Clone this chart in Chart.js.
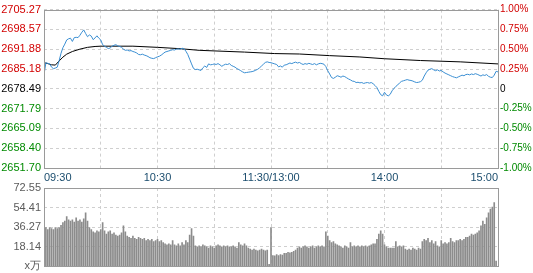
<!DOCTYPE html>
<html>
<head>
<meta charset="utf-8">
<script src="https://cdn.jsdelivr.net/npm/chart.js@4/dist/chart.umd.min.js"></script>
<style>
  html, body { margin: 0; padding: 0; background: #fff; }
  #wrap { position: relative; width: 533px; height: 273px; overflow: hidden; }
  #price { position: absolute; left: 0; top: 0; }
  #vol { position: absolute; left: 0; top: 175px; }
</style>
</head>
<body>
<div id="wrap">
  <canvas id="price" width="533" height="185"></canvas>
  <canvas id="vol" width="533" height="101"></canvas>
</div>
<script>
// --- data ------------------------------------------------------------------
const prevClose = 2678.49;

const priceTicks = [2705.27, 2698.57, 2691.88, 2685.18, 2678.49, 2671.79, 2665.09, 2658.40, 2651.70];
const priceTickLabels = ['2705.27', '2698.57', '2691.88', '2685.18', '2678.49', '2671.79', '2665.09', '2658.40', '2651.70'];
const pctTickLabels = ['1.00%', '0.75%', '0.50%', '0.25%', '0', '-0.25%', '-0.50%', '-0.75%', '-1.00%'];

const gridMinutes = [0, 30, 60, 90, 120, 150, 180, 210, 240];
const timeTickMinutes = [0, 60, 120, 180, 240];
const timeLabels = ['09:30', '10:30', '11:30/13:00', '14:00', '15:00'];

// one value per minute, 241 points
const price = [
  2683.2, 2687.3, 2687.1, 2686.9, 2685.8, 2685.3, 2685.5, 2685.8, 2688.0, 2690.5,
  2692.4, 2693.6, 2695.0, 2695.4, 2695.6, 2694.5, 2695.8, 2695.9, 2695.8, 2696.6,
  2697.6, 2698.4, 2697.2, 2696.1, 2696.7, 2696.3, 2695.1, 2695.7, 2696.4, 2695.6,
  2695.0, 2693.4, 2692.9, 2692.5, 2692.1, 2692.3, 2692.9, 2693.2, 2693.4, 2693.0,
  2692.8, 2692.5, 2691.9, 2691.5, 2691.6, 2691.3, 2691.4, 2691.1, 2690.9, 2690.6,
  2690.1, 2690.0, 2690.2, 2689.9, 2689.7, 2689.4, 2689.0, 2688.8, 2688.7, 2689.0,
  2689.3, 2689.5, 2689.9, 2690.4, 2690.9, 2691.1, 2691.3, 2691.5, 2691.7, 2691.6,
  2691.9, 2692.0, 2691.8, 2692.2, 2692.0, 2691.2, 2690.1, 2688.5, 2686.9, 2685.4,
  2685.0, 2685.1, 2684.9, 2684.7, 2685.6, 2686.2, 2685.7, 2686.9, 2686.6, 2686.7,
  2686.9, 2686.7, 2687.0, 2686.6, 2686.1, 2686.5, 2686.8, 2686.7, 2687.0, 2686.4,
  2686.1, 2685.8, 2685.3, 2685.0, 2684.6, 2684.2, 2683.9, 2684.0, 2684.1, 2684.2,
  2684.3, 2684.5, 2684.8, 2685.1, 2685.6, 2686.2, 2686.8, 2687.4, 2687.6, 2687.4,
  2687.3, 2687.1, 2686.9, 2686.7, 2685.9, 2686.2, 2685.8, 2686.5, 2686.6, 2686.9,
  2687.2, 2687.0, 2687.3, 2687.5, 2687.2, 2687.4, 2687.0, 2686.7, 2687.0, 2686.8,
  2687.1, 2686.9, 2686.7, 2687.0, 2686.6, 2686.9, 2687.1, 2687.0, 2686.8, 2686.0,
  2684.6, 2683.5, 2682.3, 2682.0, 2682.4, 2682.9, 2682.7, 2682.4, 2682.8, 2682.6,
  2682.2, 2681.8, 2681.5, 2681.1, 2681.0, 2680.6, 2680.7, 2680.5, 2680.6, 2680.3,
  2680.5, 2680.6, 2680.4, 2680.6, 2680.2, 2679.6, 2678.9, 2677.6, 2676.5, 2676.1,
  2677.3, 2676.4, 2676.1, 2676.6, 2677.8, 2678.6, 2679.3, 2679.8, 2680.5, 2681.0,
  2681.2, 2681.4, 2681.6, 2681.4, 2681.3, 2681.1, 2680.8, 2680.6, 2680.7, 2680.9,
  2681.4, 2682.8, 2683.9, 2684.8, 2685.1, 2685.3, 2684.9, 2684.6, 2684.9, 2684.5,
  2684.7, 2684.2, 2683.8, 2683.5, 2683.2, 2682.9, 2682.6, 2682.4, 2682.2, 2682.5,
  2682.8, 2683.1, 2682.9, 2683.3, 2683.4, 2683.2, 2683.5, 2683.3, 2683.6, 2683.4,
  2683.1, 2682.8, 2683.2, 2683.0, 2683.3, 2682.7, 2682.4, 2682.3, 2683.1, 2684.4,
  2684.2
];

// average price line, read at the minutes where it bends
const avgMinutes = [0, 2, 4, 6, 8, 10, 12, 15, 19, 23, 27, 30, 47, 60, 72, 82, 106, 122, 135, 151, 167, 180, 199, 220, 240];
const avgPrice = [2687.3, 2687.0, 2686.6, 2686.5, 2687.9, 2689.2, 2690.2, 2691.1, 2691.9, 2692.5, 2692.8, 2692.9, 2692.9, 2692.5,
  2692.05, 2691.5, 2690.9, 2690.4, 2690.25, 2689.7, 2689.25, 2688.65, 2688.05, 2687.6, 2686.9];

const volTicks = [0, 18.14, 36.27, 54.41, 72.55];
const volTickLabels = ['x万', '18.14', '36.27', '54.41', '72.55'];

// volume per minute (x 10k), 241 bars
const volume = [
  37.5, 36, 34, 36, 35, 34, 36, 35, 36, 38,
  40.5, 42, 46, 43, 42, 43, 41, 45, 42, 43,
  41, 44, 49.6, 42, 36, 34, 32, 31, 33, 32,
  34, 40.5, 33, 30, 32, 33, 30, 31, 29, 28,
  29, 31, 37.5, 32, 28, 27, 26, 28, 26, 25,
  27, 26, 25, 26, 24, 25, 24, 25, 23, 24,
  25, 23, 24, 22, 21, 20, 21, 20, 24, 20,
  19, 21, 19, 22, 20, 24, 22, 29, 35, 28,
  19, 18, 19, 18, 20, 19, 18, 17, 19, 18,
  17, 19, 20, 19, 18, 19, 18, 19, 18, 18,
  19, 18, 17, 22, 20, 19, 21, 19, 17, 16,
  15, 16, 15, 14.5, 15, 16, 15, 14.5, 15, 2,
  36, 10, 9.7, 11, 10, 11, 10.5, 12, 12, 13,
  12.5, 13, 14, 15, 17, 18, 17, 18, 19, 18,
  17, 18, 19, 17, 18, 19, 18, 19, 18, 32,
  28, 24, 22, 23, 21, 20, 19, 18, 17, 19,
  18, 17, 22, 18, 19, 18, 19, 18, 19, 18,
  19, 18, 19, 20, 21, 21, 25, 30, 33, 30,
  20, 18, 17, 17, 17, 17, 23, 18, 19, 18,
  19, 16, 15, 16, 15, 17, 16, 15, 17, 16,
  23, 25, 24, 26, 22, 24, 21, 23, 19, 18,
  24, 21, 22, 21, 22, 26, 23, 22, 24, 24,
  25, 24, 25, 27, 27, 28, 30, 29, 30, 31,
  33, 37.5, 42, 39, 45, 49.6, 53, 55, 59, 5,
  0
];

// --- look --------------------------------------------------------------------
const RED = '#d20000';
const GREEN = '#008a00';
const GRID = '#cfcfcf';
const FRAME = '#9a9a9a';

Chart.defaults.font.family = "'Liberation Sans', Arial, sans-serif";
Chart.defaults.font.size = 11;

function priceColor(v) {
  if (v > prevClose + 0.001) return RED;
  if (v < prevClose - 0.001) return GREEN;
  return '#000';
}

// frame around the plot area
const frame = {
  id: 'frame',
  afterDatasetsDraw(chart) {
    const { ctx, chartArea: a } = chart;
    ctx.save();
    ctx.strokeStyle = FRAME;
    ctx.lineWidth = 1;
    ctx.strokeRect(Math.round(a.left) + 0.5, Math.round(a.top) + 0.5,
      Math.round(a.right - a.left), Math.round(a.bottom - a.top));
    ctx.restore();
  }
};

const setTicks = (values) => (scale) => { scale.ticks = values.map(v => ({ value: v })); };

new Chart(document.getElementById('price'), {
  type: 'line',
  data: {
    datasets: [
      {
        data: price.map((v, i) => ({ x: i, y: v })),
        borderColor: '#3a8ed2',
        borderWidth: 1,
        pointRadius: 0,
        tension: 0
      },
      {
        data: avgMinutes.map((m, k) => ({ x: m, y: avgPrice[k] })),
        borderColor: '#000',
        borderWidth: 1,
        pointRadius: 0,
        tension: 0
      }
    ]
  },
  options: {
    responsive: false,
    animation: false,
    layout: { padding: { top: 7 } },
    plugins: { legend: { display: false }, tooltip: { enabled: false } },
    scales: {
      x: {
        type: 'linear',
        min: 0,
        max: 240,
        afterBuildTicks: setTicks(gridMinutes),
        afterFit: (s) => { s.height = 17; },
        grid: { color: GRID, drawTicks: false },
        border: { display: false, dash: [3, 3] },
        ticks: {
          autoSkip: false,
          maxRotation: 0,
          align: 'inner',
          padding: 3,
          color: '#1b4d6e',
          callback: (v) => {
            const k = timeTickMinutes.indexOf(v);
            return k >= 0 ? timeLabels[k] : '';
          }
        }
      },
      y: {
        position: 'left',
        min: priceTicks[priceTicks.length - 1],
        max: priceTicks[0],
        afterBuildTicks: setTicks(priceTicks),
        afterFit: (s) => { s.width = 44; },
        grid: { color: GRID, drawTicks: false },
        border: { display: false, dash: [3, 3] },
        ticks: {
          padding: 3,
          color: (c) => priceColor(c.tick.value),
          callback: (v) => priceTickLabels[priceTicks.indexOf(v)]
        }
      },
      y2: {
        position: 'right',
        min: priceTicks[priceTicks.length - 1],
        max: priceTicks[0],
        afterBuildTicks: setTicks(priceTicks),
        afterFit: (s) => { s.width = 35; },
        grid: { drawOnChartArea: false, drawTicks: false },
        border: { display: false },
        ticks: {
          padding: 2,
          font: { size: 10 },
          color: (c) => priceColor(c.tick.value),
          callback: (v) => pctTickLabels[priceTicks.indexOf(v)]
        }
      }
    }
  },
  plugins: [frame]
});

new Chart(document.getElementById('vol'), {
  type: 'bar',
  data: {
    datasets: [{
      data: volume.map((v, i) => ({ x: i, y: v })),
      backgroundColor: '#8c8c8c',
      borderWidth: 0,
      barThickness: 1
    }]
  },
  options: {
    responsive: false,
    animation: false,
    layout: { padding: { top: 13, right: 35 } },
    plugins: { legend: { display: false }, tooltip: { enabled: false } },
    scales: {
      x: {
        type: 'linear',
        min: 0,
        max: 240,
        offset: false,
        afterBuildTicks: setTicks(gridMinutes),
        afterFit: (s) => { s.height = 8; },
        grid: { color: GRID, drawTicks: false, offset: false },
        border: { display: false, dash: [3, 3] },
        ticks: { display: false }
      },
      y: {
        min: 0,
        max: volTicks[volTicks.length - 1],
        afterBuildTicks: setTicks(volTicks),
        afterFit: (s) => { s.width = 44; },
        grid: { color: GRID, drawTicks: false },
        border: { display: false, dash: [3, 3] },
        ticks: {
          padding: 3,
          color: '#5a5a5a',
          callback: (v) => volTickLabels[volTicks.indexOf(v)]
        }
      }
    }
  },
  plugins: [frame]
});
</script>
</body>
</html>
